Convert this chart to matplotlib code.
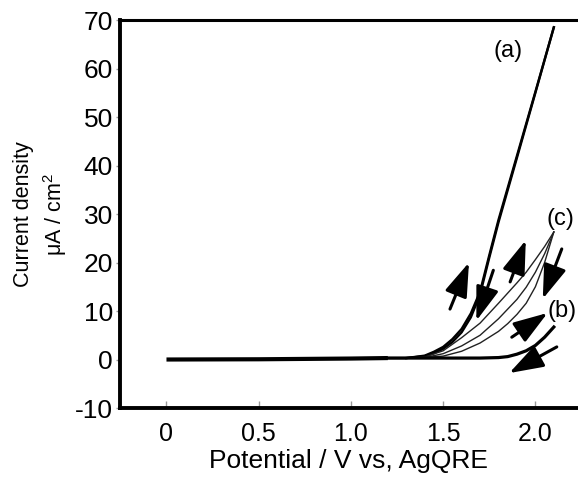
import matplotlib
matplotlib.use('Agg')
import numpy as np
import matplotlib.pyplot as plt

plt.rcParams['font.family'] = ['Liberation Sans', 'DejaVu Sans']
plt.rcParams['mathtext.fontset'] = 'custom'
plt.rcParams['mathtext.rm'] = 'Liberation Sans'
plt.rcParams['mathtext.it'] = 'Liberation Sans:italic'
plt.rcParams['axes.unicode_minus'] = False

# ==============================================================================
# data (potential in V, current density in uA/cm2)
# ==============================================================================
base_v = [0.0, 0.5, 1.0, 1.2]
base_i = [0.0, 0.05, 0.2, 0.3]

# (a) forward / reverse scans
a_fwd_v = [1.30, 1.40, 1.45, 1.50, 1.55, 1.60, 1.65, 1.70, 1.75, 1.80, 1.90,
           2.00, 2.10]
a_fwd_i = [0.3, 0.8, 1.6, 2.6, 4.2, 6.3, 9.5, 14.0, 21.5, 28.8, 42.0, 55.2,
           68.5]
a_rev_v = [2.10, 2.00, 1.90, 1.80, 1.75, 1.70, 1.65, 1.60, 1.55, 1.50, 1.45,
           1.40, 1.30]
a_rev_i = [68.5, 55.0, 41.6, 28.3, 21.0, 13.4, 8.7, 5.6, 3.6, 2.2, 1.3, 0.7,
           0.3]

# (c) three thin scans
c1_v = [1.30, 1.40, 1.50, 1.60, 1.70, 1.80, 1.90, 1.95, 2.00, 2.05, 2.10]
c1_i = [0.3, 0.5, 1.8, 4.5, 7.5, 11.6, 15.8, 18.0, 20.6, 23.3, 26.3]
c2_v = [1.30, 1.40, 1.50, 1.60, 1.70, 1.80, 1.90, 1.95, 2.00, 2.05, 2.10]
c2_i = [0.3, 0.4, 1.2, 2.8, 5.0, 8.4, 12.4, 14.9, 18.0, 21.8, 26.3]
c3_v = [1.35, 1.50, 1.60, 1.70, 1.80, 1.85, 1.90, 1.95, 2.00, 2.05, 2.10]
c3_i = [0.3, 0.7, 1.7, 3.4, 5.8, 7.4, 9.3, 11.6, 15.0, 20.0, 26.3]

# (b)
b_v = [1.20, 1.70, 1.80, 1.85, 1.90, 1.95, 2.00, 2.05, 2.10]
b_i = [0.3, 0.3, 0.4, 0.6, 1.1, 1.8, 2.9, 4.6, 6.7]

# arrows: (tail, head)
arrows = [((1.537, 10.4), (1.640, 20.0)),
          ((1.772, 18.4), (1.680, 8.0)),
          ((1.863, 16.0), (1.948, 24.6)),
          ((2.143, 22.8), (2.040, 12.5)),
          ((1.872, 4.6), (2.066, 9.6)),
          ((2.116, 2.6), (1.858, -2.8))]

labels = ['(a)', '(b)', '(c)']
label_pos = [(1.854, 63.7), (2.143, 10.1), (2.134, 29.0)]

x_ticks = [0, 0.5, 1.0, 1.5, 2.0]
x_tick_labels = ['0', '0.5', '1.0', '1.5', '2.0']
y_ticks = [-10, 0, 10, 20, 30, 40, 50, 60, 70]

# ==============================================================================
fig = plt.figure(figsize=(5.78, 4.79), dpi=100)
ax = fig.add_axes([0.2076, 0.1482, 0.7924, 0.8100])

ax.plot(base_v, base_i, color='k', lw=3.0, solid_capstyle='butt')
ax.plot(base_v[-1:] + a_fwd_v, base_i[-1:] + a_fwd_i, color='k', lw=1.7)
ax.plot(a_rev_v, a_rev_i, color='k', lw=1.7)
ax.plot(c1_v, c1_i, color='#222222', lw=1.0)
ax.plot(c2_v, c2_i, color='#222222', lw=1.0)
ax.plot(c3_v, c3_i, color='#222222', lw=1.0)
ax.plot(b_v, b_i, color='k', lw=2.3)

for tail, head in arrows:
    ax.annotate('', xy=head, xytext=tail,
                arrowprops=dict(arrowstyle='-|>,head_length=0.95,head_width=0.32',
                                lw=2.2, color='k', mutation_scale=22,
                                shrinkA=0, shrinkB=0))

for lab, (lx, ly) in zip(labels, label_pos):
    ax.text(lx, ly, lab, fontsize=17, ha='center', va='center')

ax.set_xlim(-0.252, 2.231)
ax.set_ylim(-10, 70)
ax.set_xticks(x_ticks)
ax.set_xticklabels(x_tick_labels)
ax.set_yticks(y_ticks)

ax.tick_params(axis='x', direction='in', length=5, width=1, color='#999999',
               labelsize=18, pad=10)
ax.tick_params(axis='y', direction='out', length=3, width=1, color='#999999',
               labelsize=19, pad=2)

for side in ['left', 'bottom']:
    ax.spines[side].set_linewidth(2.8)
ax.spines['top'].set_linewidth(2.2)
ax.spines['right'].set_visible(False)

ax.set_xlabel('Potential / V vs, AgQRE', fontsize=19, labelpad=2)
ax.set_ylabel('Current density\n\u03bcA / cm$^{\\mathregular{2}}$',
              fontsize=15.5, linespacing=1.35, labelpad=4)

plt.savefig('out.png', dpi=100)
plt.close()
